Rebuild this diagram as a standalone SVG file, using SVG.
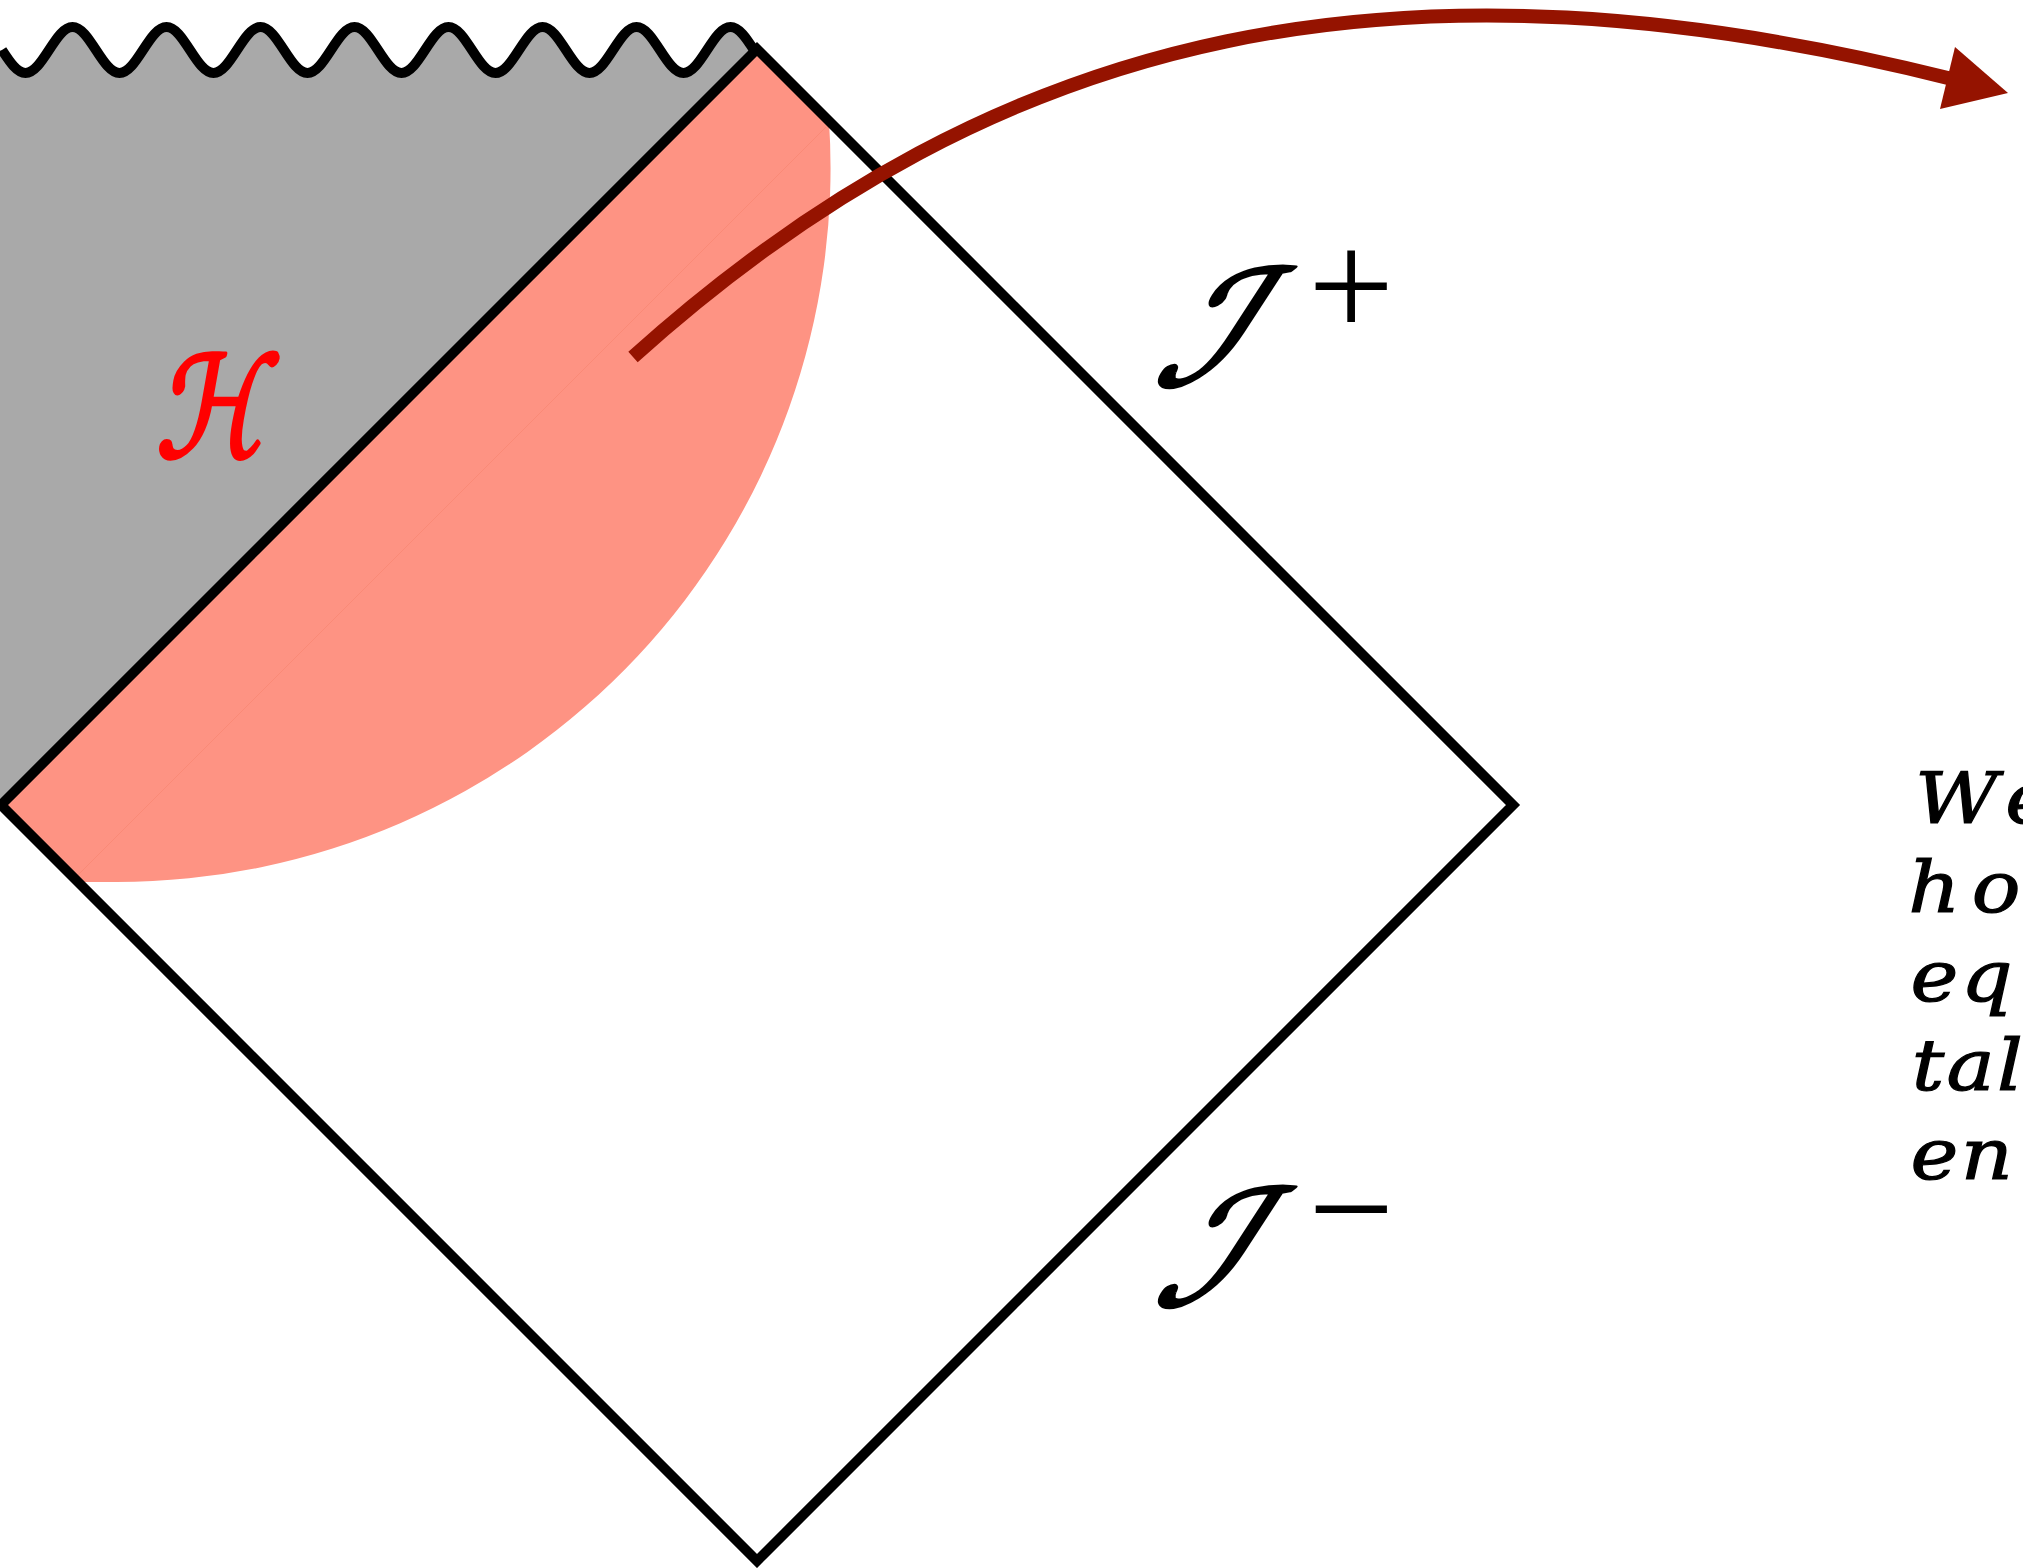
<svg xmlns="http://www.w3.org/2000/svg" width="2023" height="1568" viewBox="0 0 2023 1568">
<style>
.edge{fill:none;stroke:#000;stroke-width:10;stroke-linejoin:miter;stroke-miterlimit:10}
.wave{fill:none;stroke:#000;stroke-width:10;stroke-linecap:butt}
.scri{font-family:"DejaVu Sans",sans-serif;font-size:160px;fill:#000;stroke:#000;stroke-width:3.5;stroke-linejoin:round}
.sup{font-family:"Liberation Serif",serif;font-size:153px;fill:#000}
.note{font-family:"DejaVu Serif",serif;font-style:italic;font-size:71px;letter-spacing:2px;fill:#000;stroke:#000;stroke-width:1.2}
</style>
<rect width="2023" height="1568" fill="#fff"/>
<g id="interior">
<path id="singular-region" fill="#a9a9a9" d="M0,50 L2,50 c7.66,11.78 15,23 23.5,23 c8.5,0 15.84,-11.22 23.5,-23 c7.66,-11.78 15,-23 23.5,-23 c8.5,0 15.84,11.22 23.5,23 c7.66,11.78 15,23 23.5,23 c8.5,0 15.84,-11.22 23.5,-23 c7.66,-11.78 15,-23 23.5,-23 c8.5,0 15.84,11.22 23.5,23 c7.66,11.78 15,23 23.5,23 c8.5,0 15.84,-11.22 23.5,-23 c7.66,-11.78 15,-23 23.5,-23 c8.5,0 15.84,11.22 23.5,23 c7.66,11.78 15,23 23.5,23 c8.5,0 15.84,-11.22 23.5,-23 c7.66,-11.78 15,-23 23.5,-23 c8.5,0 15.84,11.22 23.5,23 c7.66,11.78 15,23 23.5,23 c8.5,0 15.84,-11.22 23.5,-23 c7.66,-11.78 15,-23 23.5,-23 c8.5,0 15.84,11.22 23.5,23 c7.66,11.78 15,23 23.5,23 c8.5,0 15.84,-11.22 23.5,-23 c7.66,-11.78 15,-23 23.5,-23 c8.5,0 15.84,11.22 23.5,23 c7.66,11.78 15,23 23.5,23 c8.5,0 15.84,-11.22 23.5,-23 c7.66,-11.78 15,-23 23.5,-23 c8.5,0 15.84,11.22 23.5,23 c7.66,11.78 15,23 23.5,23 c8.5,0 15.84,-11.22 23.5,-23 c7.66,-11.78 15,-23 23.5,-23 c8.5,0 15.84,11.22 23.5,23 L757,49 L1,805 L0,805 Z"/>
<path id="near-horizon" fill="#fe9383" d="M1,805 L757,49 L829,121 A714,714 0 0 1 116,882 L78,882 Z"/>
<line x1="826" y1="127" x2="76" y2="877" stroke="#f6836f" stroke-width="1" stroke-opacity="0.6"/>
</g>
<g id="diagram-edges">
<path class="wave" d="M2,50 c7.66,11.78 15,23 23.5,23 c8.5,0 15.84,-11.22 23.5,-23 c7.66,-11.78 15,-23 23.5,-23 c8.5,0 15.84,11.22 23.5,23 c7.66,11.78 15,23 23.5,23 c8.5,0 15.84,-11.22 23.5,-23 c7.66,-11.78 15,-23 23.5,-23 c8.5,0 15.84,11.22 23.5,23 c7.66,11.78 15,23 23.5,23 c8.5,0 15.84,-11.22 23.5,-23 c7.66,-11.78 15,-23 23.5,-23 c8.5,0 15.84,11.22 23.5,23 c7.66,11.78 15,23 23.5,23 c8.5,0 15.84,-11.22 23.5,-23 c7.66,-11.78 15,-23 23.5,-23 c8.5,0 15.84,11.22 23.5,23 c7.66,11.78 15,23 23.5,23 c8.5,0 15.84,-11.22 23.5,-23 c7.66,-11.78 15,-23 23.5,-23 c8.5,0 15.84,11.22 23.5,23 c7.66,11.78 15,23 23.5,23 c8.5,0 15.84,-11.22 23.5,-23 c7.66,-11.78 15,-23 23.5,-23 c8.5,0 15.84,11.22 23.5,23 c7.66,11.78 15,23 23.5,23 c8.5,0 15.84,-11.22 23.5,-23 c7.66,-11.78 15,-23 23.5,-23 c8.5,0 15.84,11.22 23.5,23 c7.66,11.78 15,23 23.5,23 c8.5,0 15.84,-11.22 23.5,-23 c7.66,-11.78 15,-23 23.5,-23 c8.5,0 15.84,11.22 23.5,23 L757,49"/>
<path class="edge" d="M757,49 L1513,805 L757,1561 L1,805 Z"/>
</g>
<g id="label-H">
<text transform="translate(155,457) skewX(-10) scale(0.8,1)" font-family="DejaVu Sans, sans-serif" font-size="140" fill="#ff0000" stroke="#ff0000" stroke-width="4" stroke-linejoin="round">ℋ</text>
</g>
<g id="label-scri-plus">
<text class="scri" transform="translate(1150,385) skewX(-33)">ℐ</text>
<text class="sup" x="1308" y="337">+</text>
</g>
<g id="label-scri-minus">
<text class="scri" transform="translate(1150,1305) skewX(-33)">ℐ</text>
<text class="sup" x="1308" y="1260">−</text>
</g>
<g id="note" transform="translate(1906,0) scale(1.14,1)">
<text class="note" x="8" y="823">W<tspan dx="4">e</tspan></text>
<text class="note" x="2" y="912">h<tspan dx="8">o</tspan></text>
<text class="note" x="4" y="1001">eq</text>
<text class="note" x="5" y="1090">tal</text>
<text class="note" x="4" y="1179">en</text>
</g>
<g id="connectors">
<path d="M633,357 C1004.5,22.5 1405,-57.5 1950,78.5" fill="none" stroke="#951300" stroke-width="14"/>
<polygon points="2008,93 1955,47 1940,109" fill="#951300"/>
</g>
</svg>
